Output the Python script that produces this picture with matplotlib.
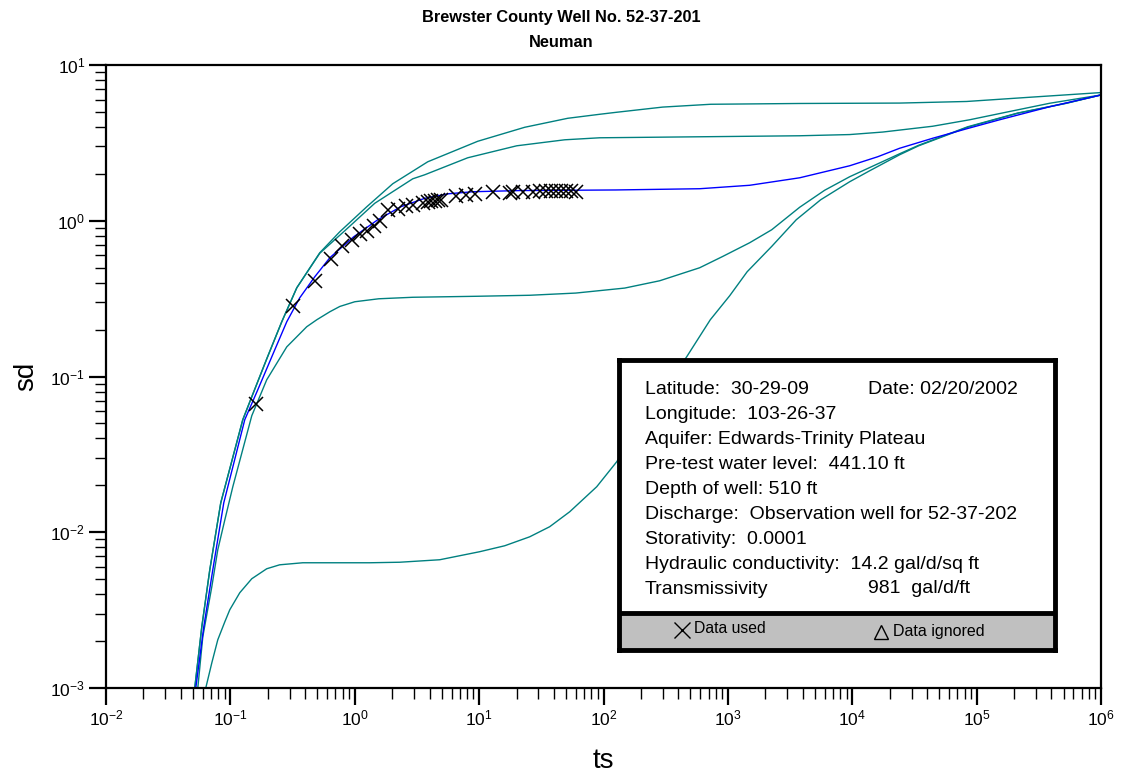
import matplotlib
matplotlib.use("Agg")
import matplotlib.pyplot as plt

plt.rcParams['font.family'] = ['Liberation Sans', 'DejaVu Sans']
plt.rcParams['mathtext.fontset'] = 'custom'
plt.rcParams['mathtext.rm'] = 'Liberation Sans'

# type curves (ts, sd)
ts_c1 = [0.0517, 0.0589, 0.0683, 0.0837, 0.1258, 0.1486, 0.1962, 0.2589, 0.342, 0.5232,
         0.758, 1.249, 2.021, 3.862, 9.743, 23.26, 51.55, 93.2, 125.3, 299.2, 727.5, 3778,
         24040, 83100, 281900, 1e6]
sd_c1 = [0.001, 0.00247, 0.00574, 0.01547, 0.0528, 0.0741, 0.130, 0.2247, 0.3714, 0.6231,
         0.850, 1.230, 1.729, 2.392, 3.239, 3.984, 4.550, 4.828, 4.966, 5.370, 5.598, 5.664,
         5.698, 5.834, 6.227, 6.655]

ts_c2 = [0.0517, 0.0589, 0.0683, 0.0837, 0.1258, 0.1486, 0.1962, 0.2589, 0.342, 0.5232,
         0.8311, 1.448, 2.926, 3.653, 8.097, 20.06, 48.76, 93.2, 593.3, 3778, 9530, 17550,
         44290, 87830, 153000, 386300, 1e6]
sd_c2 = [0.001, 0.00247, 0.00574, 0.01547, 0.0528, 0.0741, 0.130, 0.2247, 0.3714, 0.6186,
         0.8626, 1.295, 1.860, 1.974, 2.538, 3.030, 3.311, 3.411, 3.462, 3.514, 3.577, 3.712,
         4.045, 4.451, 4.879, 5.681, 6.424]

ts_fit = [0.0527, 0.0611, 0.0722, 0.0885, 0.1305, 0.1661, 0.2275, 0.2840, 0.3613, 0.4770,
          0.630, 0.9817, 1.531, 2.343, 3.653, 5.697, 8.883, 21.21, 125.3, 593.3, 1497, 3778,
          9530, 16010, 24040, 44290, 83100, 153000, 386300, 1e6]
sd_fit = [0.001, 0.00247, 0.00574, 0.01547, 0.0528, 0.0822, 0.1485, 0.2247, 0.3203, 0.4369,
          0.5786, 0.7896, 1.015, 1.230, 1.394, 1.491, 1.536, 1.563, 1.577, 1.606, 1.690, 1.888,
          2.255, 2.576, 2.921, 3.386, 3.896, 4.451, 5.396, 6.424]

ts_c4 = [0.0547, 0.060, 0.0709, 0.0792, 0.0902, 0.1046, 0.1486, 0.196, 0.284, 0.411, 0.495,
         0.630, 0.758, 1.0, 1.559, 2.926, 9.57, 25.5, 59.8, 148, 283, 593, 908, 1497, 2250,
         3778, 5999, 9530, 15140, 24040, 34190, 84700, 213600, 529000, 1e6]
sd_c4 = [0.001, 0.00213, 0.00447, 0.00772, 0.0120, 0.0196, 0.056, 0.0953, 0.155, 0.2087,
         0.2314, 0.2604, 0.2817, 0.302, 0.3156, 0.3227, 0.3275, 0.3324, 0.3434, 0.3697, 0.4119,
         0.4992, 0.5899, 0.7226, 0.8753, 1.221, 1.570, 1.917, 2.272, 2.693, 3.053, 4.013, 4.915,
         5.698, 6.424]

ts_c5 = [0.0634, 0.0709, 0.0792, 0.0902, 0.0989, 0.1190, 0.1486, 0.196, 0.249, 0.382, 1.32,
         2.30, 4.82, 10.1, 16.06, 25.5, 36.9, 53.5, 88.2, 127.7, 235.1, 466.6, 722, 1034, 1429,
         2250, 3546, 5572, 9530, 13800, 24040, 34190, 84700, 213600, 529000, 1e6]
sd_c5 = [0.001, 0.00145, 0.00204, 0.00266, 0.00318, 0.00409, 0.00503, 0.00583, 0.00618,
         0.00637, 0.00637, 0.00642, 0.00666, 0.0075, 0.00819, 0.00935, 0.01085, 0.01354,
         0.0196, 0.02835, 0.0612, 0.1339, 0.2314, 0.33, 0.4706, 0.684, 1.015, 1.364, 1.780,
         2.094, 2.653, 3.030, 3.984, 4.90, 5.68, 6.424]

# observed drawdown data
ts_obs = [0.160, 0.319, 0.477, 0.641, 0.796, 0.951, 1.097, 1.265, 1.43, 1.59, 1.85, 2.23, 2.60,
          2.94, 3.54, 3.88, 4.14, 4.40, 4.67, 4.98, 6.57, 7.91, 9.22, 12.9, 17.6, 18.7, 22.5,
          27.1, 30.7, 34.8, 38.1, 41.8, 45.9, 50.3, 55.2, 60.6]
sd_obs = [0.0668, 0.285, 0.408, 0.568, 0.684, 0.755, 0.825, 0.863, 0.929, 0.99, 1.165, 1.19,
          1.235, 1.267, 1.299, 1.318, 1.330, 1.344, 1.350, 1.364, 1.447, 1.469, 1.484, 1.519,
          1.506, 1.529, 1.519, 1.529, 1.542, 1.542, 1.55, 1.55, 1.55, 1.55, 1.55, 1.54]

info_lines = [
    "Latitude:  30-29-09",
    "Longitude:  103-26-37",
    "Aquifer: Edwards-Trinity Plateau",
    "Pre-test water level:  441.10 ft",
    "Depth of well: 510 ft",
    "Discharge:  Observation well for 52-37-202",
    "Storativity:  0.0001",
    "Hydraulic conductivity:  14.2 gal/d/sq ft",
    "Transmissivity",
]

teal = '#008080'

fig = plt.figure(figsize=(11.23, 7.76), dpi=100)
ax = fig.add_axes([0.0944, 0.1134, 0.886, 0.8028])

for xs, ys in [(ts_c1, sd_c1), (ts_c2, sd_c2), (ts_c4, sd_c4), (ts_c5, sd_c5)]:
    ax.plot(xs, ys, color=teal, lw=1.0)
ax.plot(ts_fit, sd_fit, color='#0000ff', lw=1.0)
ax.plot(ts_obs, sd_obs, 'x', color='black', ms=10, mew=1.1)

ax.set_xscale('log')
ax.set_yscale('log')
ax.set_xlim(1e-2, 1e6)
ax.set_ylim(1e-3, 1e1)
ax.set_xticks([10.0**k for k in range(-2, 7)])
ax.set_yticks([10.0**k for k in range(-3, 2)])

for s in ax.spines.values():
    s.set_linewidth(1.6)
ax.tick_params(which='major', direction='out', length=12, width=1.6, labelsize=12.5, pad=3)
ax.tick_params(which='minor', direction='out', length=8, width=1.0)
ax.tick_params(top=False, right=False)

ax.set_xlabel('ts', fontsize=20, labelpad=14)
ax.set_ylabel('sd', fontsize=20, labelpad=8)

fig.text(0.5, 0.978, 'Brewster County Well No. 52-37-201', ha='center', va='center',
         fontsize=11.75, fontweight='bold')
fig.text(0.5, 0.9446, 'Neuman', ha='center', va='center', fontsize=11.75, fontweight='bold')

# information box
box = fig.add_axes([0.5512, 0.1624, 0.3882, 0.3743])
box.set_xlim(0, 1)
box.set_ylim(0, 1)
box.set_xticks([])
box.set_yticks([])
for s in box.spines.values():
    s.set_linewidth(3.5)
box.axhspan(0, 0.129, color='#c0c0c0', zorder=0)
box.axhline(0.129, color='black', lw=3.5)

for i, line in enumerate(info_lines):
    fig.text(0.5743, 1 - (389.3 + 25 * i) / 776, line, ha='left', va='center', fontsize=14)
fig.text(0.7729, 1 - 389.3 / 776, 'Date: 02/20/2002', ha='left', va='center', fontsize=14)
fig.text(0.7729, 1 - 588.3 / 776, '981  gal/d/ft', ha='left', va='center', fontsize=14)

box.plot([0.145], [0.068], 'x', color='black', ms=11, mew=1.0)
box.text(0.172, 0.075, 'Data used', ha='left', va='center', fontsize=11.3)
box.plot([0.6], [0.062], '^', mfc='none', mec='black', ms=10, mew=1.0)
box.text(0.628, 0.062, 'Data ignored', ha='left', va='center', fontsize=11.5)

fig.savefig('out.png', dpi=100)
